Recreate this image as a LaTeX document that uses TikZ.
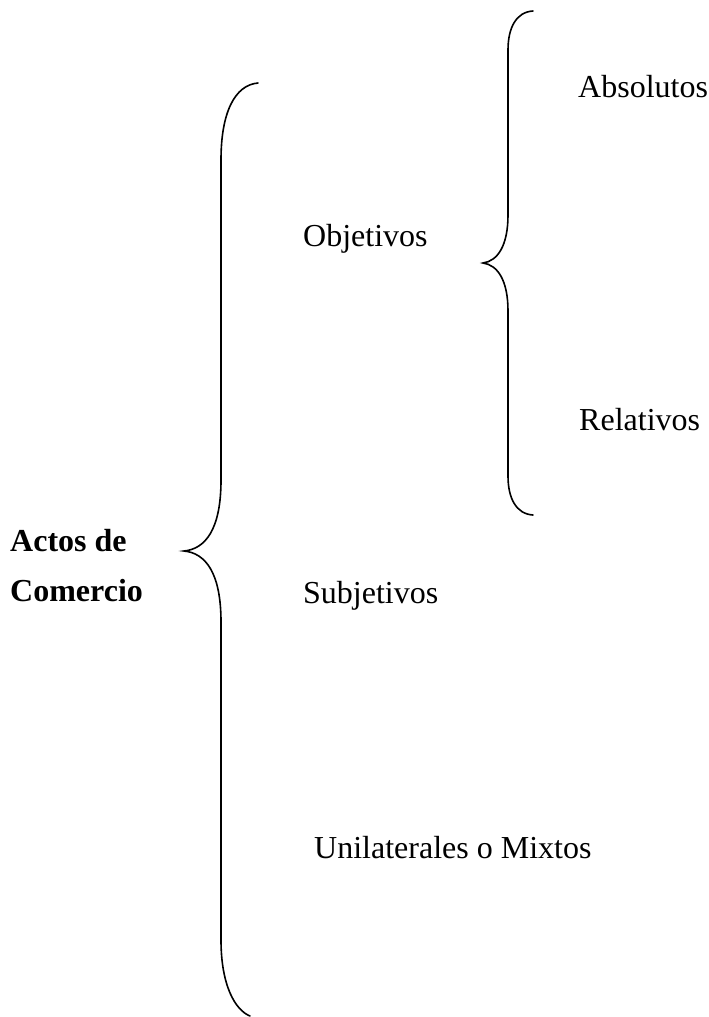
\documentclass[tikz,border=0pt]{standalone}
\usepackage{fontspec}
\setmainfont{Liberation Serif}
\begin{document}
\begin{tikzpicture}[x=1pt,y=-1pt,
  lbl/.style={anchor=base west,inner sep=0pt,font=\fontsize{32}{38}\selectfont},
  blbl/.style={lbl,font=\fontsize{32}{38}\selectfont\bfseries},
  brace/.style={line width=1.6pt,line cap=round}]
\useasboundingbox (0,0) rectangle (709,1017);
% big brace
\coordinate (b1) at (258,83);
\coordinate (bt) at (184,551);
\coordinate (b2) at (250,1016);
\draw[brace] (b1) .. controls (235,85) and (221,112) .. (221,160)
  -- (221,480) .. controls (221,530) and (205,549) .. (bt)
  .. controls (205,553) and (221,572) .. (221,622)
  -- (221,940) .. controls (221,985) and (235,1010) .. (b2);
% small brace
\coordinate (s1) at (533,11);
\coordinate (st) at (483,263);
\coordinate (s2) at (533,515);
\draw[brace] (s1) .. controls (516,12) and (508,28) .. (508,50)
  -- (508,215) .. controls (508,245) and (498,261) .. (st)
  .. controls (498,265) and (508,281) .. (508,311)
  -- (508,476) .. controls (508,498) and (516,514) .. (s2);
% labels
\node[blbl] (actos) at (10,551) {Actos de};
\node[blbl] (comercio) at (10,601) {Comercio};
\node[lbl] (obj) at (303,246) {Objetivos};
\node[lbl] (abs) at (578,97) {Absolutos};
\node[lbl] (rel) at (579,430) {Relativos};
\node[lbl] (subj) at (303,603) {Subjetivos};
\node[lbl] (uni) at (314,858) {Unilaterales o Mixtos};
\end{tikzpicture}
\end{document}
